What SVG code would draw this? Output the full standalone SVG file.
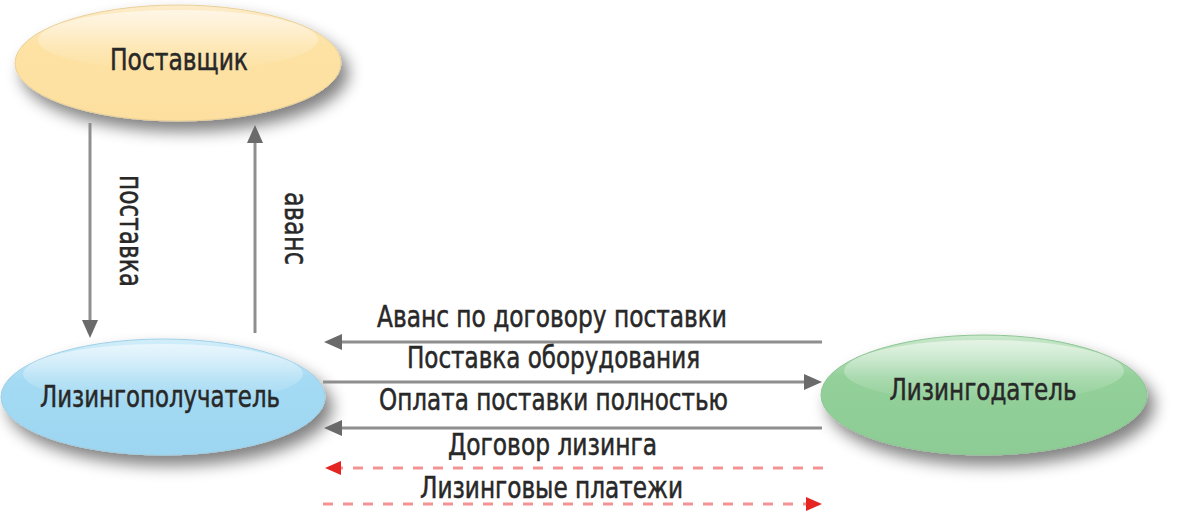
<svg xmlns="http://www.w3.org/2000/svg" width="1181" height="517" viewBox="0 0 1181 517">
<style>
.lbl{font-family:"DejaVu Sans Condensed","DejaVu Sans","Liberation Sans",sans-serif;fill:#282828;stroke:#282828;stroke-width:0.5;}
.edge{font-size:30px;}
.node{font-size:31px;}
.vert{font-size:32px;}
.gl{stroke:#8e8e8e;stroke-width:3;fill:none;}
.rl{stroke:#f39393;stroke-width:3;fill:none;stroke-dasharray:10 10;}
</style>
<defs>
<filter id="sh" x="-20%" y="-30%" width="150%" height="180%">
<feGaussianBlur in="SourceAlpha" stdDeviation="8"/>
<feOffset dx="7" dy="10" result="b"/>
<feComponentTransfer><feFuncA type="linear" slope="0.5"/></feComponentTransfer>
<feMerge><feMergeNode/><feMergeNode in="SourceGraphic"/></feMerge>
</filter>
<linearGradient id="gy" x1="0" y1="0" x2="0" y2="1">
<stop offset="0" stop-color="#fdeccb"/><stop offset="0.35" stop-color="#fde2a4"/><stop offset="1" stop-color="#fde0a0"/>
</linearGradient>
<linearGradient id="gb" x1="0" y1="0" x2="0" y2="1">
<stop offset="0" stop-color="#d3eefa"/><stop offset="0.35" stop-color="#a4daf3"/><stop offset="1" stop-color="#9dd6f1"/>
</linearGradient>
<linearGradient id="gg" x1="0" y1="0" x2="0" y2="1">
<stop offset="0" stop-color="#cae9cc"/><stop offset="0.35" stop-color="#93d09a"/><stop offset="1" stop-color="#8dcc94"/>
</linearGradient>
<linearGradient id="hl" x1="0" y1="0" x2="0" y2="1">
<stop offset="0" stop-color="#ffffff" stop-opacity="0.55"/><stop offset="1" stop-color="#ffffff" stop-opacity="0"/>
</linearGradient>
<marker id="ag" viewBox="0 0 18 16" refX="6" refY="8" markerWidth="18" markerHeight="16" markerUnits="userSpaceOnUse" orient="auto">
<path d="M0,0 L18,8 L0,16 z" fill="#6a6a6a"/>
</marker>
<marker id="ar" viewBox="0 0 16 14" refX="5" refY="7" markerWidth="16" markerHeight="14" markerUnits="userSpaceOnUse" orient="auto">
<path d="M0,0 L16,7 L0,14 z" fill="#e52521"/>
</marker>
</defs>

<g id="node-supplier">
<ellipse cx="178" cy="63" rx="163" ry="58" fill="url(#gy)" stroke="#e9cf98" stroke-width="1" filter="url(#sh)"/>
<ellipse cx="178" cy="40" rx="140" ry="30" fill="url(#hl)"/>
<text class="lbl node" x="179" y="70" text-anchor="middle" textLength="138" lengthAdjust="spacingAndGlyphs">Поставщик</text>
</g>

<g id="node-lessee">
<ellipse cx="163" cy="397" rx="162" ry="58" fill="url(#gb)" stroke="#9fcfe6" stroke-width="1" filter="url(#sh)"/>
<ellipse cx="163" cy="374" rx="140" ry="30" fill="url(#hl)"/>
<text class="lbl node" x="160" y="407" text-anchor="middle" textLength="240" lengthAdjust="spacingAndGlyphs">Лизингополучатель</text>
</g>

<g id="node-lessor">
<ellipse cx="984" cy="395" rx="163" ry="60" fill="url(#gg)" stroke="#8ec494" stroke-width="1" filter="url(#sh)"/>
<ellipse cx="984" cy="371" rx="140" ry="31" fill="url(#hl)"/>
<text class="lbl node" x="983" y="400" text-anchor="middle" textLength="187" lengthAdjust="spacingAndGlyphs">Лизингодатель</text>
</g>

<g id="connectors">
<line class="gl" x1="90" y1="123" x2="90" y2="326" marker-end="url(#ag)"/>
<line class="gl" x1="255" y1="333" x2="255" y2="137" marker-end="url(#ag)"/>
<line class="gl" x1="822" y1="342" x2="336" y2="342" marker-end="url(#ag)"/>
<line class="gl" x1="323" y1="382" x2="810" y2="382" marker-end="url(#ag)"/>
<line class="gl" x1="822" y1="428" x2="336" y2="428" marker-end="url(#ag)"/>
<line class="rl" x1="823" y1="468" x2="336" y2="468" marker-end="url(#ar)"/>
<line class="rl" x1="323" y1="504" x2="811" y2="504" marker-end="url(#ar)"/>
</g>

<g id="labels">
<text class="lbl vert" transform="translate(120,175) rotate(90)" x="0" y="0" textLength="112" lengthAdjust="spacingAndGlyphs">поставка</text>
<text class="lbl vert" transform="translate(285,192) rotate(90)" x="0" y="0" textLength="73" lengthAdjust="spacingAndGlyphs">аванс</text>
<text class="lbl edge" x="377" y="327" textLength="350" lengthAdjust="spacingAndGlyphs">Аванс по договору поставки</text>
<text class="lbl edge" x="407" y="368" textLength="293" lengthAdjust="spacingAndGlyphs">Поставка оборудования</text>
<text class="lbl edge" x="379" y="410" textLength="349" lengthAdjust="spacingAndGlyphs">Оплата поставки полностью</text>
<text class="lbl edge" x="448" y="455" textLength="209" lengthAdjust="spacingAndGlyphs">Договор лизинга</text>
<text class="lbl edge" x="420" y="498" textLength="263" lengthAdjust="spacingAndGlyphs">Лизинговые платежи</text>
</g>
</svg>
